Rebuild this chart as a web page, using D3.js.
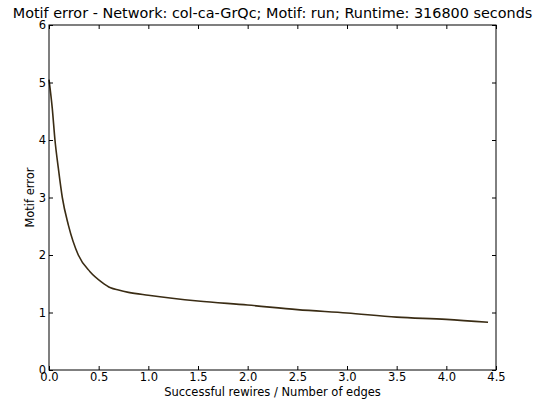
<!DOCTYPE html>
<html>
<head>
<meta charset="utf-8">
<script src="https://cdn.jsdelivr.net/npm/d3@7"></script>
<style>
  html, body { margin: 0; padding: 0; background: #fff; }
  svg { display: block; font-family: "DejaVu Sans", sans-serif; }
</style>
</head>
<body>
<svg id="chart" width="545" height="404"></svg>
<script>
// Motif error against rewiring progress
const rewireRatio = [0, 0.033, 0.06, 0.094, 0.134, 0.195, 0.295, 0.413, 0.53, 0.62, 0.7, 0.8, 1.0, 1.5, 2.0, 2.5, 3.0, 3.5, 4.0, 4.42];
const motifError  = [5.05, 4.55, 4.0, 3.51, 3.0, 2.52, 2.0, 1.71, 1.53, 1.43, 1.39, 1.35, 1.30, 1.20, 1.13, 1.05, 0.99, 0.92, 0.88, 0.83];

const xTicks = [0, 0.5, 1, 1.5, 2, 2.5, 3, 3.5, 4, 4.5];
const yTicks = [0, 1, 2, 3, 4, 5, 6];

const titleText = "Motif error - Network: col-ca-GrQc; Motif: run; Runtime: 316800 seconds";
const xLabel = "Successful rewires / Number of edges";
const yLabel = "Motif error";

const svg = d3.select("#chart");
const margin = { left: 49, right: 49, top: 25, bottom: 34 };
const W = 545, H = 404;

const x = d3.scaleLinear().domain([0, 4.5]).range([margin.left, W - margin.right]);
const y = d3.scaleLinear().domain([0, 6]).range([H - margin.bottom, margin.top]);

// curve
const line = d3.line()
  .x((d, i) => x(rewireRatio[i]))
  .y(d => y(d))
  .curve(d3.curveMonotoneX);

svg.append("path")
  .datum(motifError)
  .attr("d", line)
  .attr("fill", "none")
  .attr("stroke", "#3a2c14")
  .attr("stroke-width", 1.6)
  .attr("stroke-linejoin", "round");

// frame
svg.append("rect")
  .attr("x", x(0)).attr("y", y(6))
  .attr("width", x(4.5) - x(0)).attr("height", y(0) - y(6))
  .attr("fill", "none").attr("stroke", "#000").attr("stroke-width", 1);

// inward ticks on all four sides
const tickLen = 4;
const bottomAxis = d3.axisBottom(x).tickValues(xTicks).tickSizeInner(-tickLen).tickSizeOuter(0)
  .tickPadding(3).tickFormat(d3.format(".1f"));
const topAxis = d3.axisTop(x).tickValues(xTicks).tickSizeInner(-tickLen).tickSizeOuter(0).tickFormat("");
const leftAxis = d3.axisLeft(y).tickValues(yTicks).tickSizeInner(-tickLen).tickSizeOuter(0)
  .tickPadding(3).tickFormat(d3.format("d"));
const rightAxis = d3.axisRight(y).tickValues(yTicks).tickSizeInner(-tickLen).tickSizeOuter(0).tickFormat("");

function styleAxis(g) {
  g.select(".domain").remove();
  g.selectAll(".tick line").attr("stroke", "#000");
  g.selectAll(".tick text").attr("fill", "#000").attr("font-size", 11.5)
    .attr("font-family", "DejaVu Sans, sans-serif");
}

svg.append("g").attr("transform", `translate(0,${y(0)})`).call(bottomAxis).call(styleAxis);
svg.append("g").attr("transform", `translate(0,${y(6)})`).call(topAxis).call(styleAxis);
svg.append("g").attr("transform", `translate(${x(0)},0)`).call(leftAxis).call(styleAxis);
svg.append("g").attr("transform", `translate(${x(4.5)},0)`).call(rightAxis).call(styleAxis);

// title
svg.append("text")
  .attr("x", (x(0) + x(4.5)) / 2).attr("y", 18)
  .attr("text-anchor", "middle")
  .attr("font-size", 14.4)
  .attr("fill", "#000")
  .text(titleText);

// axis labels
svg.append("text")
  .attr("x", (x(0) + x(4.5)) / 2).attr("y", 396)
  .attr("text-anchor", "middle")
  .attr("font-size", 11.5)
  .attr("fill", "#000")
  .text(xLabel);

svg.append("text")
  .attr("transform", `translate(34,${(y(0) + y(6)) / 2}) rotate(-90)`)
  .attr("text-anchor", "middle")
  .attr("font-size", 11.5)
  .attr("fill", "#000")
  .text(yLabel);
</script>
</body>
</html>
